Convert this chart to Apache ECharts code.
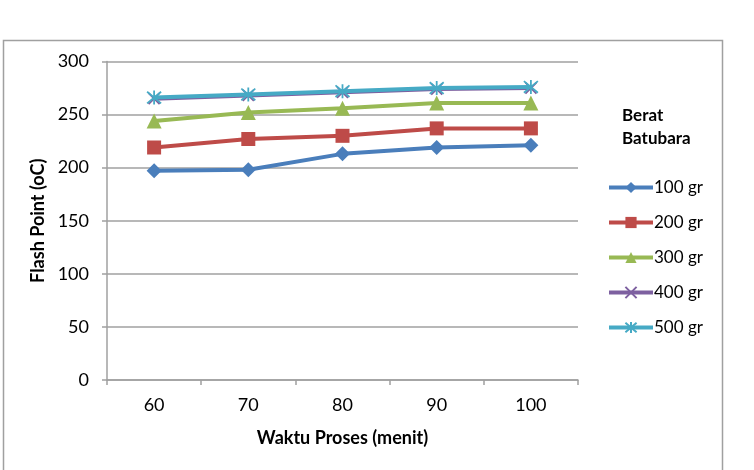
<!DOCTYPE html>
<html>
<head>
<meta charset="utf-8">
<script src="https://cdn.jsdelivr.net/npm/echarts@6/dist/echarts.min.js"></script>
<style>
html,body{margin:0;padding:0;background:#fff;}
#c{width:754px;height:470px;}
</style>
</head>
<body>
<div id="c"></div>
<script>
var categories = ['60', '70', '80', '90', '100'];
var seriesNames = ['100 gr', '200 gr', '300 gr', '400 gr', '500 gr'];
var s100 = [197, 198, 213, 219, 221];
var s200 = [219, 227, 230, 237, 237];
var s300 = [244, 252, 256, 261, 261];
var s400 = [265, 268, 271, 274, 275];
var s500 = [266, 269, 272, 275, 276];
var yTicks = [0, 50, 100, 150, 200, 250, 300];

var FONT = 'Lato';
var colors = ['#4a7ebb', '#be4b48', '#98b954', '#7d60a0', '#46aac5'];
var symbols = [
  'diamond',
  'rect',
  'triangle',
  'path://M0,0L10,10M10,0L0,10',
  'path://M0,0L10,10M10,0L0,10M5,-1L5,11'
];
var sizes = [15, 14, 15, 11, 14];
var data = [s100, s200, s300, s400, s500];

var series = data.map(function (d, i) {
  var stroked = i >= 3;
  return {
    name: seriesNames[i],
    type: 'line',
    data: d,
    symbol: symbols[i],
    symbolSize: sizes[i],
    showAllSymbol: true,
    lineStyle: { color: colors[i], width: 4 },
    itemStyle: stroked
      ? { color: 'rgba(0,0,0,0)', borderColor: colors[i], borderWidth: 1.8 }
      : { color: colors[i], borderColor: colors[i], borderWidth: 0 },
    emphasis: { disabled: true },
    z: 2 + i,
    animation: false
  };
});

var chart = echarts.init(document.getElementById('c'), null, { renderer: 'canvas' });
chart.setOption({
  backgroundColor: '#fff',
  animation: false,
  textStyle: { fontFamily: FONT },
  graphic: [{
    type: 'rect',
    shape: { x: 3.5, y: 40.5, width: 719, height: 460 },
    style: { fill: 'none', stroke: '#a0a0a0', lineWidth: 1.5 },
    z: 0
  }, {
    type: 'text',
    left: 622, top: 104,
    style: {
      text: 'Berat\nBatubara',
      font: 'bold 17px ' + FONT,
      fill: '#000',
      lineHeight: 23
    }
  }],
  grid: { left: 107, right: 176, top: 61.5, bottom: 90, containLabel: false },
  legend: {
    orient: 'vertical',
    left: 602, top: 174,
    itemWidth: 44, itemHeight: 14,
    itemGap: 18,
    data: seriesNames,
    lineStyle: { width: 4 },
    textStyle: { fontFamily: FONT, fontSize: 17, color: '#000', padding: [0, 0, 0, -4] }
  },
  xAxis: {
    type: 'category',
    data: categories,
    boundaryGap: true,
    name: 'Waktu Proses (menit)',
    nameLocation: 'middle',
    nameGap: 49,
    nameTextStyle: { fontFamily: FONT, fontSize: 18, fontWeight: 'bold', color: '#000' },
    axisLine: { lineStyle: { color: '#a0a0a0', width: 1.5 } },
    axisTick: { show: true, length: 5, lineStyle: { color: '#a0a0a0', width: 1.5 } },
    axisLabel: { fontFamily: FONT, fontSize: 18, color: '#000', margin: 16 },
    splitLine: { show: false }
  },
  yAxis: {
    type: 'value',
    min: yTicks[0], max: yTicks[yTicks.length - 1], interval: 50,
    name: 'Flash Point (oC)',
    nameLocation: 'middle',
    nameGap: 54,
    nameRotate: 90,
    nameTextStyle: { fontFamily: FONT, fontSize: 18, fontWeight: 'bold', color: '#000' },
    axisLine: { show: true, lineStyle: { color: '#a0a0a0', width: 1.5 } },
    axisTick: { show: true, length: 5, lineStyle: { color: '#a0a0a0', width: 1.5 } },
    axisLabel: { fontFamily: FONT, fontSize: 18, color: '#000', margin: 18 },
    splitLine: { show: true, lineStyle: { color: '#a0a0a0', width: 1.5 } }
  },
  series: series
});
</script>
</body>
</html>
